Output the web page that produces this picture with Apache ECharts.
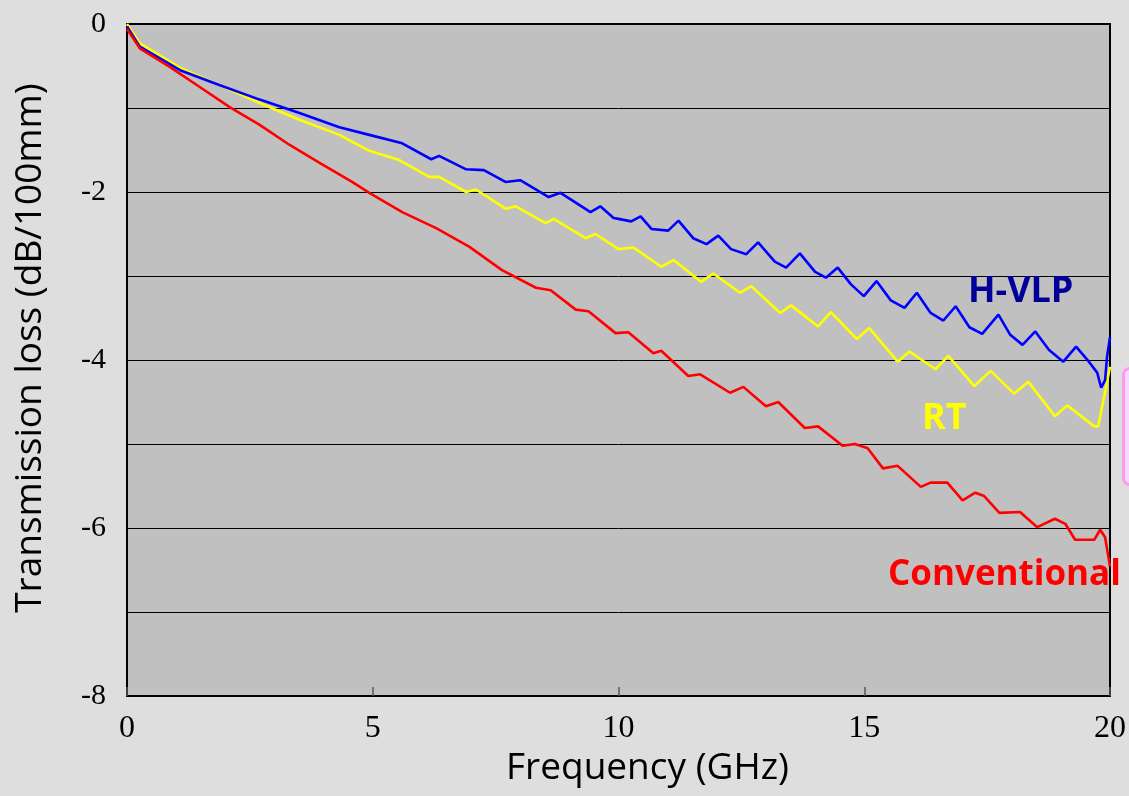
<!DOCTYPE html>
<html lang="en">
<head>
    <meta charset="UTF-8">
    <title>Transmission loss</title>
    <script src="https://cdn.jsdelivr.net/npm/echarts@6/dist/echarts.min.js"></script>
    <style>
        *{
            padding: 0;
            margin: 0;
        }
        html, body{
            width: 100%;
            height: 100%;
        }
        .echarts{
            width: 1129px;
            height: 796px;
        }
    </style>
</head>
<body>
<div class="echarts"></div>
<script>
    // frequency (GHz) / loss (dB/100mm) pairs
    let hvlpFreq = [0, 0.26, 1.08, 1.89, 2.7, 3.51, 4.32, 4.93, 5.6, 6.19, 6.35, 6.9, 7.26, 7.7, 8.0, 8.58, 8.82, 9.43, 9.63, 9.9,
        10.0, 10.26, 10.45, 10.67, 11.01, 11.22, 11.52, 11.79, 12.03, 12.29, 12.6, 12.84, 13.18, 13.41, 13.69, 14.0, 14.22, 14.46,
        14.73, 14.99, 15.25, 15.54, 15.82, 16.07, 16.35, 16.61, 16.86, 17.14, 17.4, 17.73, 17.97, 18.22, 18.48, 18.76, 19.05,
        19.31, 19.57, 19.74, 19.82, 19.9, 19.94, 20.0];
    let hvlpLoss = [-0.03, -0.27, -0.55, -0.73, -0.9, -1.06, -1.23, -1.32, -1.42, -1.61, -1.57, -1.73, -1.74, -1.88, -1.86, -2.06, -2.01, -2.24, -2.17, -2.31,
        -2.32, -2.35, -2.29, -2.44, -2.46, -2.34, -2.55, -2.62, -2.52, -2.68, -2.74, -2.6, -2.83, -2.9, -2.73, -2.95, -3.02, -2.9,
        -3.1, -3.24, -3.06, -3.29, -3.38, -3.2, -3.44, -3.53, -3.36, -3.61, -3.69, -3.46, -3.7, -3.82, -3.66, -3.88, -4.02,
        -3.84, -4.02, -4.15, -4.33, -4.24, -3.96, -3.73];

    let rtFreq = [0, 0.26, 1.08, 1.89, 2.7, 3.51, 4.32, 4.93, 5.54, 6.15, 6.35, 6.9, 7.1, 7.71, 7.91, 8.52, 8.68, 9.33, 9.53, 10.0,
        10.3, 10.87, 11.12, 11.68, 11.93, 12.47, 12.7, 13.29, 13.51, 14.06, 14.32, 14.85, 15.1, 15.68, 15.92, 16.45, 16.71,
        17.24, 17.57, 18.05, 18.34, 18.88, 19.13, 19.68, 19.76, 19.88, 20.0];
    let rtLoss = [0, -0.23, -0.52, -0.73, -0.94, -1.14, -1.32, -1.51, -1.62, -1.82, -1.82, -2.0, -1.97, -2.2, -2.17, -2.37, -2.32, -2.55, -2.5, -2.68,
        -2.66, -2.89, -2.81, -3.07, -2.97, -3.2, -3.12, -3.44, -3.35, -3.6, -3.43, -3.75, -3.62, -4.02, -3.9, -4.11, -3.95,
        -4.31, -4.13, -4.4, -4.26, -4.67, -4.54, -4.79, -4.79, -4.44, -4.08];

    let convFreq = [0, 0.26, 0.87, 1.48, 2.09, 2.7, 3.31, 3.91, 4.58, 4.93, 5.6, 6.29, 6.96, 7.63, 8.32, 8.62, 9.13, 9.39, 9.94,
        10.2, 10.71, 10.87, 11.42, 11.66, 12.27, 12.54, 13.0, 13.25, 13.79, 14.06, 14.56, 14.81, 15.07, 15.38, 15.68, 16.15,
        16.35, 16.69, 17.0, 17.26, 17.44, 17.75, 18.17, 18.52, 18.88, 19.09, 19.29, 19.68, 19.8, 19.9, 20.0];
    let convLoss = [-0.06, -0.29, -0.51, -0.75, -0.99, -1.2, -1.44, -1.65, -1.88, -2.01, -2.24, -2.43, -2.65, -2.93, -3.14, -3.17, -3.4, -3.42, -3.68,
        -3.67, -3.92, -3.89, -4.19, -4.17, -4.39, -4.32, -4.55, -4.5, -4.81, -4.79, -5.02, -5.0, -5.05, -5.29, -5.26, -5.51,
        -5.46, -5.46, -5.67, -5.58, -5.62, -5.82, -5.81, -5.99, -5.89, -5.95, -6.14, -6.14, -6.02, -6.11, -6.46];

    let yTicks = [0, -2, -4, -6, -8];

    function pairs(xs, ys){
        return xs.map((x, i) => [x, ys[i]]);
    }

    let main = document.querySelector('.echarts');
    let myCharts = echarts.init(main);

    let serif = 'Liberation Serif';
    let sans = 'Open Sans';

    let option = {
        backgroundColor: '#dedede',
        animation: false,
        grid: {
            left: 127,
            right: 16,
            top: 24,
            bottom: 100,
            show: true,
            backgroundColor: '#c0c0c0',
            borderColor: '#000',
            borderWidth: 2
        },
        xAxis: {
            type: 'value',
            position: 'bottom',
            min: 0,
            max: 20,
            interval: 5,
            name: 'Frequency (GHz)',
            nameLocation: 'middle',
            nameGap: 54,
            nameTextStyle: {color: '#000', fontSize: 37, fontFamily: sans, padding: [0, 0, 0, 58]},
            axisLine: {show: true, onZero: false, lineStyle: {color: '#000', width: 2}},
            axisTick: {show: true, inside: true, length: 9, lineStyle: {color: '#555', width: 1.5}},
            axisLabel: {color: '#000', fontSize: 32, fontFamily: serif, margin: 17},
            splitLine: {show: false}
        },
        yAxis: {
            type: 'value',
            min: -8,
            max: 0,
            interval: 1,
            name: 'Transmission loss (dB/100mm)',
            nameLocation: 'middle',
            nameGap: 78,
            nameTextStyle: {color: '#000', fontSize: 37, fontFamily: sans, padding: [0, 0, 0, 24]},
            axisLine: {show: true, onZero: false, lineStyle: {color: '#000', width: 2}},
            axisTick: {show: false},
            axisLabel: {
                color: '#000', fontSize: 30, fontFamily: serif, margin: 21,
                formatter: v => yTicks.includes(v) ? String(v) : ''
            },
            splitLine: {show: true, lineStyle: {color: '#000', width: 1}}
        },
        series: [
            {
                name: 'H-VLP', type: 'line', showSymbol: false, symbol: 'none',
                data: pairs(hvlpFreq, hvlpLoss),
                lineStyle: {color: '#0000ff', width: 2.6}, z: 3
            },
            {
                name: 'RT', type: 'line', showSymbol: false, symbol: 'none',
                data: pairs(rtFreq, rtLoss),
                lineStyle: {color: '#ffff00', width: 2.6}, z: 2
            },
            {
                name: 'Conventional', type: 'line', showSymbol: false, symbol: 'none',
                data: pairs(convFreq, convLoss),
                lineStyle: {color: '#ff0000', width: 2.6}, z: 4
            }
        ],
        graphic: [
            {
                type: 'rect', left: 1122, top: 367, z: 1,
                shape: {width: 20, height: 116, r: 6},
                style: {fill: '#fdd8fb', stroke: '#f79cf0', lineWidth: 3}
            },
            {
                type: 'text', left: 968, top: 274, z: 10,
                style: {text: 'H-VLP', fill: '#000099', font: 'bold 36px "Open Sans"'}
            },
            {
                type: 'text', left: 922, top: 401, z: 10,
                style: {text: 'RT', fill: '#ffff00', font: 'bold 36px "Open Sans"'}
            },
            {
                type: 'text', left: 888, top: 558, z: 10,
                style: {text: 'Conventional', fill: '#ff0000', font: 'bold 35px "Open Sans"'}
            }
        ]
    };
    myCharts.setOption(option);
</script>
</body>
</html>
